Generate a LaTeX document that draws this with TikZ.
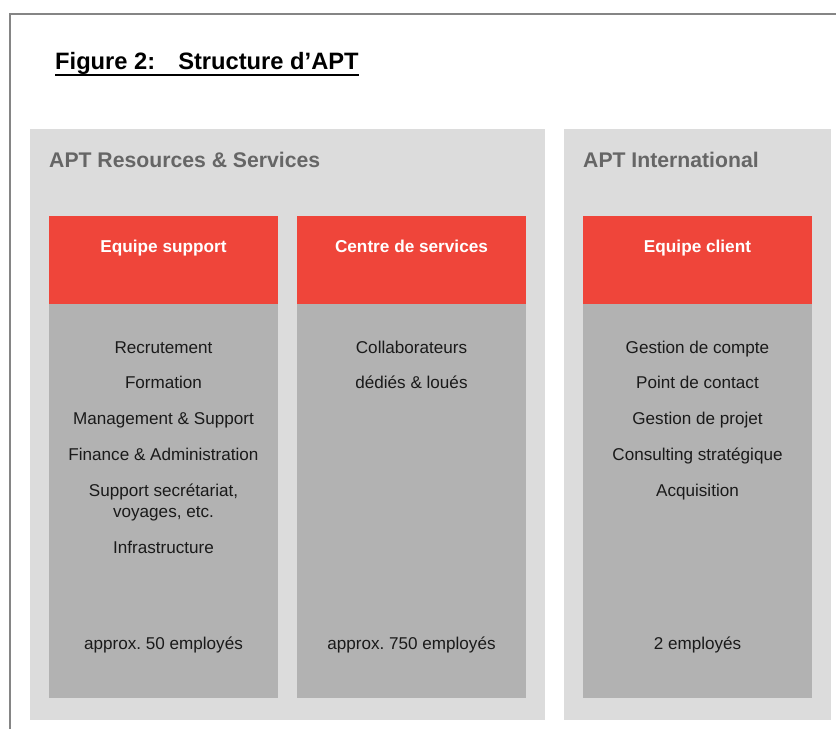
\documentclass[tikz,border=0pt]{standalone}
\usepackage{fontspec}
\setmainfont{Liberation Sans}
\frenchspacing
\definecolor{framegray}{HTML}{858585}
\definecolor{panelgray}{HTML}{DCDCDC}
\definecolor{boxgray}{HTML}{B2B2B2}
\definecolor{boxred}{HTML}{EF453A}
\definecolor{headgray}{HTML}{666666}
\definecolor{bodytxt}{HTML}{1A1A1A}
\begin{document}
\begin{tikzpicture}[x=1pt,y=-1pt,
  bodytext/.style={anchor=base, inner sep=0pt, text=bodytxt, font=\fontsize{17.1}{20}\selectfont},
  redhead/.style={anchor=base, inner sep=0pt, text=white, font=\fontsize{17.2}{20}\selectfont\bfseries},
  grouphead/.style={anchor=base west, inner sep=0pt, text=headgray, font=\fontsize{21.2}{24}\selectfont\bfseries},
  panel/.style={fill=panelgray},
  redbox/.style={fill=boxred},
  graybox/.style={fill=boxgray}]
\useasboundingbox (0,0) rectangle (836,729);
\fill[white] (0,0) rectangle (836,729);
% frame
\draw[framegray, line width=2pt] (9.5,729) -- (9.5,14) -- (836,14);
% title
\node[anchor=base west, inner sep=0pt, font=\fontsize{23.7}{28}\selectfont\bfseries] (title) at (55,69.5) {Figure 2:\hspace{23pt}Structure d’APT};
\draw[line width=2pt] ([yshift=-5pt]title.base west) -- ([yshift=-5pt]title.base east);
% panels
\fill[panel] (30,129) rectangle (545,720);
\fill[panel] (564,129) rectangle (831,720);
\node[grouphead] (g1) at (49,167) {APT Resources \& Services};
\node[grouphead] (g2) at (583,167) {APT International};
% boxes
\fill[graybox] (49,304) rectangle (278,698);
\fill[redbox] (49,216) rectangle (278,304);
\fill[graybox] (297,304) rectangle (526,698);
\fill[redbox] (297,216) rectangle (526,304);
\fill[graybox] (583,304) rectangle (812,698);
\fill[redbox] (583,216) rectangle (812,304);
\node[redhead] (h1) at (163.5,252) {Equipe support};
\node[redhead] (h2) at (411.5,252) {Centre de services};
\node[redhead] (h3) at (697.5,252) {Equipe client};
% left column
\node[bodytext] (l1) at (163.5,353) {Recrutement};
\node[bodytext] (l2) at (163.5,388.7) {Formation};
\node[bodytext] (l3) at (163.5,424.5) {Management \& Support};
\node[bodytext] (l4) at (163.5,460.3) {Finance \& Administration};
\node[bodytext] (l5) at (163.5,496.8) {Support secrétariat,};
\node[bodytext] (l6) at (163.5,517.5) {voyages, etc.};
\node[bodytext] (l7) at (163.5,553) {Infrastructure};
\node[bodytext] (l8) at (163.5,649) {approx. 50 employés};
% middle column
\node[bodytext] (m1) at (411.5,353) {Collaborateurs};
\node[bodytext] (m2) at (411.5,388.7) {dédiés \& loués};
\node[bodytext] (m3) at (411.5,649) {approx. 750 employés};
% right column
\node[bodytext] (r1) at (697.5,353) {Gestion de compte};
\node[bodytext] (r2) at (697.5,388.7) {Point de contact};
\node[bodytext] (r3) at (697.5,424.5) {Gestion de projet};
\node[bodytext] (r4) at (697.5,460.3) {Consulting stratégique};
\node[bodytext] (r5) at (697.5,496.8) {Acquisition};
\node[bodytext] (r6) at (697.5,649) {2 employés};
\end{tikzpicture}
\end{document}
